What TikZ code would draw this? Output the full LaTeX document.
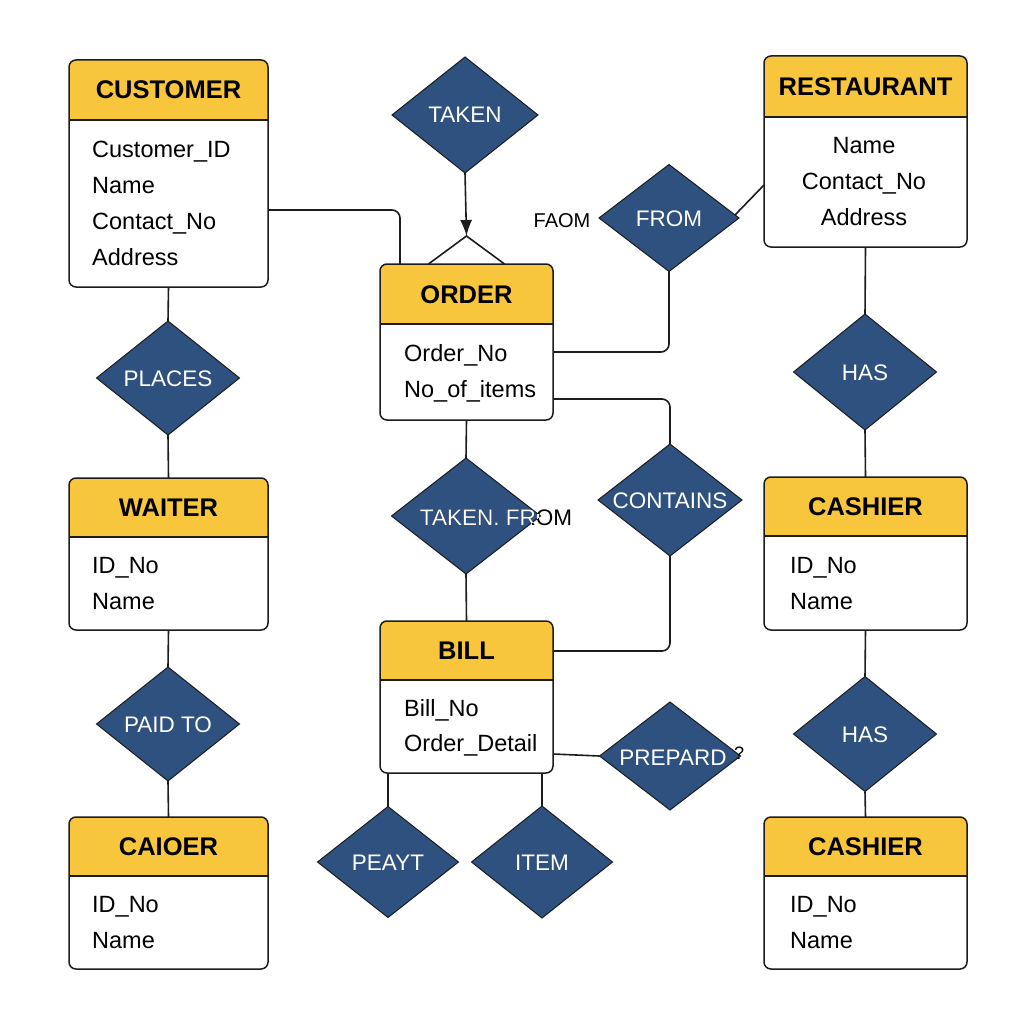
\documentclass[tikz,border=0pt]{standalone}
\usepackage{fontspec}
\setmainfont{Liberation Sans}
\usetikzlibrary{shapes.geometric,arrows.meta}
\definecolor{hdry}{HTML}{F8C63C}
\definecolor{relb}{HTML}{2E5180}
\definecolor{lnk}{HTML}{1C1C1C}
\tikzset{
  eboxbg/.style={fill=white, draw=none, rounded corners=7pt, inner sep=0pt, outer sep=0pt},
  boxline/.style={draw=lnk, line width=1.5pt},
  etitle/.style={font=\fontsize{25.5}{30}\selectfont\bfseries, text=black, inner sep=0pt, anchor=base},
  attr/.style={font=\fontsize{23.5}{28}\selectfont, text=black, inner sep=0pt, anchor=base west},
  attrc/.style={font=\fontsize{23.5}{28}\selectfont, text=black, inner sep=0pt, anchor=base},
  rel/.style={shape=diamond, fill=relb, draw=lnk, line width=1pt, inner sep=0pt, outer sep=0pt},
  rlabel/.style={font=\fontsize{22.5}{26}\selectfont, text=white, inner sep=0pt, anchor=base},
  conn/.style={draw=lnk, line width=1.6pt},
  freetext/.style={font=\fontsize{20}{24}\selectfont, text=black, inner sep=0pt, anchor=base}
}
% #1 name, #2 x, #3 y, #4 w, #5 h, #6 header h, #7 title
\newcommand\ERbox[7]{%
  \node[eboxbg, minimum width=#4pt, minimum height=#5pt, anchor=north west] (#1) at (#2,#3) {};
  \begin{scope}
    \clip[rounded corners=7pt] (#1.north west) rectangle (#1.south east);
    \fill[hdry] (#1.north west) rectangle ([yshift=-#6pt]#1.north east);
  \end{scope}
  \draw[boxline, rounded corners=7pt] (#1.north west) rectangle (#1.south east);
  \draw[boxline] ([yshift=-#6pt]#1.north west) -- ([yshift=-#6pt]#1.north east);
  \node[etitle] (#1-t) at ([yshift=-#6pt/2-9pt]#1.north) {#7};
}
\newcommand\ERrel[6]{% name, x, y, w, h, label
  \node[rel, minimum width=#4pt, minimum height=#5pt] (#1) at (#2,#3) {};
  \node[rlabel] (#1-t) at ([yshift=-8pt]#1.center) {#6};
}
\begin{document}
\begin{tikzpicture}[x=1pt, y=-1pt]
\fill[white] (0,0) rectangle (1024,1024);
\useasboundingbox (0,0) rectangle (1024,1024);

% ---------- entities ----------
\ERbox{cust}{69}{60}{199}{227}{60}{CUSTOMER}
\node[attr] (cust-a1) at (92,157.5) {Customer\_ID};
\node[attr] (cust-a2) at (92,193.5) {Name};
\node[attr] (cust-a3) at (92,229.5) {Contact\_No};
\node[attr] (cust-a4) at (92,265.5) {Address};

\ERbox{waiter}{69}{478}{199}{152}{59}{WAITER}
\node[attr] (waiter-a1) at (92,573.5) {ID\_No};
\node[attr] (waiter-a2) at (92,609.5) {Name};

\ERbox{caioer}{69}{817}{199}{152}{59}{CAIOER}
\node[attr] (caioer-a1) at (92,912.5) {ID\_No};
\node[attr] (caioer-a2) at (92,948.5) {Name};

\ERbox{ord}{380}{264}{173}{156}{60}{ORDER}
\node[attr] (ord-a1) at (404,361.5) {Order\_No};
\node[attr] (ord-a2) at (404,397.5) {No\_of\_items};

\ERbox{bill}{380}{621}{173}{152}{59}{BILL}
\node[attr] (bill-a1) at (404,716.5) {Bill\_No};
\node[attr] (bill-a2) at (404,751.5) {Order\_Detail};

\ERbox{rest}{764}{56}{203}{191}{61}{RESTAURANT}
\node[attrc] (rest-a1) at (864,153.5) {Name};
\node[attrc] (rest-a2) at (864,189.5) {Contact\_No};
\node[attrc] (rest-a3) at (864,225.5) {Address};

\ERbox{cash1}{764}{477}{203}{153}{59}{CASHIER}
\node[attr] (cash1-a1) at (790,573.5) {ID\_No};
\node[attr] (cash1-a2) at (790,609.5) {Name};

\ERbox{cash2}{764}{817}{203}{152}{59}{CASHIER}
\node[attr] (cash2-a1) at (790,912.5) {ID\_No};
\node[attr] (cash2-a2) at (790,948.5) {Name};

% ---------- relationships ----------
\ERrel{taken}{465}{115}{146}{116}{TAKEN}
\ERrel{from}{669}{218}{140}{107}{FROM}
\ERrel{places}{168}{378}{143}{114}{PLACES}
\ERrel{has1}{865}{372}{143}{116}{HAS}
\ERrel{contains}{670}{500}{144}{112}{CONTAINS}
\ERrel{paid}{168}{724}{143}{114}{PAID TO}
\ERrel{has2}{865}{734}{143}{115}{HAS}
\ERrel{peayt}{388}{862}{141}{111}{PEAYT}
\ERrel{item}{542}{862}{141}{112}{ITEM}

% TAKEN. FROM : text overflows the diamond
\node[rel, minimum width=149pt, minimum height=116pt] (tf) at (466,516) {};
\node[rlabel, text=black] (tf-t) at (496,525) {TAKEN. FROM};
\begin{scope}
  \clip (tf.north) -- (tf.east) -- (tf.south) -- (tf.west) -- cycle;
  \node[rlabel] (tf-tw) at (496,525) {TAKEN. FROM};
\end{scope}

% PREPARD
\node[rel, minimum width=141pt, minimum height=108pt] (prep) at (670,756) {};
\node[rlabel] (prep-t) at (673,765) {PREPARD};
\node[font=\fontsize{18}{20}\selectfont, text=black, inner sep=0pt] (prep-q) at (739,753) {?};

\node[freetext] (faom) at (562,227) {FAOM};

% ---------- connectors ----------
\draw[conn, rounded corners=8pt] ([yshift=-36.5pt]cust.east) -| ([xshift=20pt]ord.north west);

\coordinate (fork) at ([yshift=28pt]ord.north);
\draw[conn, -{Latex[length=16pt,width=12pt]}] (taken.south) -- (fork);
\draw[conn] ([xshift=-38pt]ord.north) -- (fork) -- ([xshift=38pt]ord.north);

\draw[conn, rounded corners=8pt] (from.south) |- ([yshift=-10pt]ord.east);
\draw[conn] ([xshift=-4pt,yshift=3pt]from.east) -- ([yshift=-33.5pt]rest.west);

\draw[conn] (cust.south) -- (places.north);
\draw[conn] (places.south) -- (waiter.north);
\draw[conn] (waiter.south) -- (paid.north);
\draw[conn] (paid.south) -- (caioer.north);

\draw[conn] (rest.south) -- (has1.north);
\draw[conn] (has1.south) -- (cash1.north);
\draw[conn] (cash1.south) -- (has2.north);
\draw[conn] (has2.south) -- (cash2.north);

\draw[conn] (ord.south) -- (tf.north);
\draw[conn] (tf.south) -- (bill.north);

\draw[conn, rounded corners=8pt] ([yshift=-57pt]ord.east) -| (contains.north);
\draw[conn, rounded corners=8pt] (contains.south) |- ([yshift=46pt]bill.east);

\draw[conn] ([yshift=-57pt]bill.east) -- (prep.west);
\draw[conn] ([xshift=-78.5pt]bill.south) -- (peayt.north);
\draw[conn] ([xshift=75.5pt]bill.south) -- (item.north);
\end{tikzpicture}
\end{document}
